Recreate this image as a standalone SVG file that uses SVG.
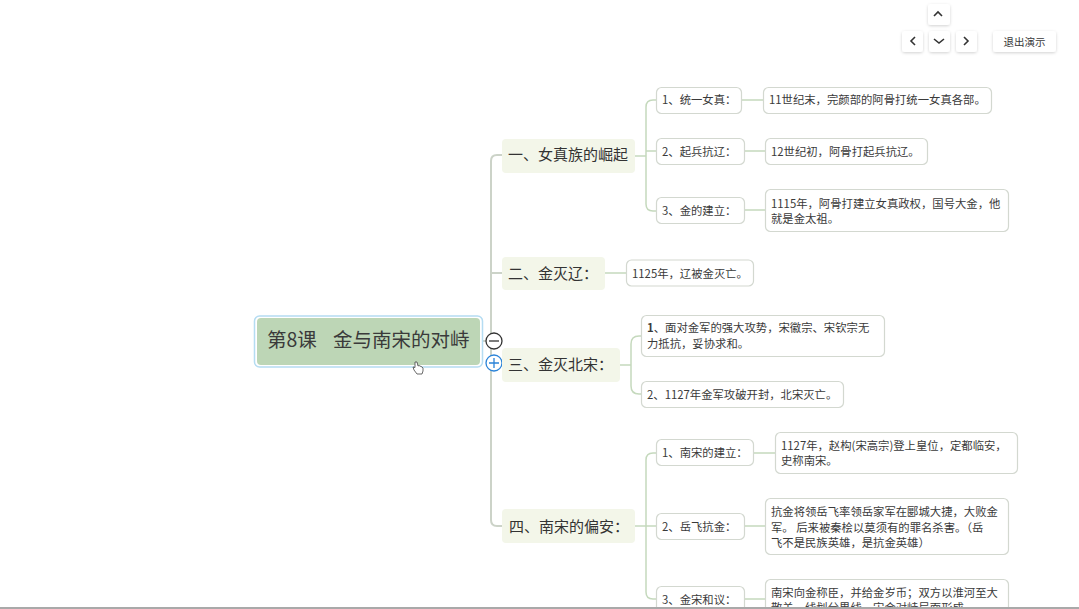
<svg xmlns="http://www.w3.org/2000/svg" width="1079" height="609" viewBox="0 0 1079 609">
<style>
text{font-family:"Noto Sans CJK SC","Noto Sans",sans-serif;fill:#3a3a3a}
.l1 rect{fill:#f3f6e9}
.l1 text{font-size:15px;fill:#333}
.box rect{fill:#fff;stroke:#d3d8d0;stroke-width:1.2}
.box text{font-size:11.350px}
.c path{fill:none;stroke:#c5d9bd;stroke-width:1.5}
.c path.t{stroke:#ccd3c8;stroke-width:2}
.btn rect{fill:#fff;filter:url(#s)}
.btn path{fill:none;stroke:#333;stroke-width:1.6}
</style>
<defs>
<filter id="s" x="-30%" y="-30%" width="160%" height="160%"><feDropShadow dx="0" dy="1" stdDeviation="1.5" flood-color="#000" flood-opacity=".18"/></filter>
<clipPath id="view"><rect width="1079" height="607"/></clipPath>
</defs>
<rect width="1079" height="609" fill="#fff"/>
<g class="c" id="connectors" clip-path="url(#view)">
<path class="t" d="M502 155H497Q491 155 491 161V520Q491 526 497 526H502"/>
<path class="t" d="M482 341H491M491 273H502M491 365H502"/>
<path d="M635 156H646M646 156V107Q646 100 653 100H656M646 156V204Q646 211 653 211H656M646 151H656"/>
<path d="M741 100H763M744 151H765M744 210H765"/>
<path d="M605 273H626"/>
<path d="M620 365H631M631 365V344Q631 336 639 336H641M631 365V386Q631 394 639 394H641"/>
<path d="M635 526H646M646 526V460Q646 453 653 453H656M646 526V592Q646 599 653 599H656M646 526H656"/>
<path d="M753 453H775M744 526H765M744 599H765"/>
</g>
<g id="root">
<rect x="254.500" y="316" width="228" height="51" rx="5" fill="#fff" stroke="#b5dcf2" stroke-width="1.500"/>
<rect x="257" y="318" width="223" height="47" rx="4" fill="#bdd6b6"/>
<text x="267" y="347" font-size="19.500" fill="#333">第8课<tspan x="333">金与南宋的对峙</tspan></text>
</g>
<g id="collapse">
<circle cx="494" cy="341" r="8" fill="#fff" stroke="#333" stroke-width="1.300"/>
<path d="M489 341H499" stroke="#333" stroke-width="1.300"/>
</g>
<g id="expand">
<circle cx="494" cy="363" r="8" fill="#fff" stroke="#2a83d8" stroke-width="1.300"/>
<path d="M489 363H499M494 358V368" stroke="#2a83d8" stroke-width="1.300"/>
</g>
<g id="n1" class="l1"><rect x="502" y="139" width="133" height="34" rx="4"/><text x="508" y="160">一、女真族的崛起</text></g>
<g id="n2" class="l1"><rect x="502" y="257" width="103" height="33" rx="4"/><text x="508" y="279">二、金灭辽：</text></g>
<g id="n3" class="l1"><rect x="502" y="348" width="118" height="34" rx="4"/><text x="508" y="370">三、金灭北宋：</text></g>
<g id="n4" class="l1"><rect x="502" y="509" width="133" height="34" rx="4"/><text x="509" y="532">四、南宋的偏安：</text></g>
<g id="n1a" class="box"><rect x="656.500" y="87.500" width="85" height="26" rx="5"/><text x="662" y="104">1、统一女真：</text></g>
<g id="n1b" class="box"><rect x="656.500" y="138.500" width="88" height="26" rx="5"/><text x="662" y="156">2、起兵抗辽：</text></g>
<g id="n1c" class="box"><rect x="656.500" y="197.500" width="88" height="26" rx="5"/><text x="662" y="215">3、金的建立：</text></g>
<g id="n1a1" class="box"><rect x="763.500" y="87.500" width="228" height="26" rx="5"/><text x="769" y="104">11世纪末，完颜部的阿骨打统一女真各部。</text></g>
<g id="n1b1" class="box"><rect x="765.500" y="138.500" width="162" height="26" rx="5"/><text x="771" y="156">12世纪初，阿骨打起兵抗辽。</text></g>
<g id="n1c1" class="box"><rect x="765.500" y="189.500" width="243" height="42" rx="5"/><text x="771" y="208">1115年，阿骨打建立女真政权，国号大金，他</text><text x="771" y="223">就是金太祖。</text></g>
<g id="n2a" class="box"><rect x="626.500" y="260" width="127" height="26" rx="5"/><text x="632" y="278">1125年，辽被金灭亡。</text></g>
<g id="n3a" class="box"><rect x="641.500" y="315.500" width="243" height="41" rx="5"/><text x="647" y="332"><tspan font-weight="700">1</tspan>、面对金军的强大攻势，宋徽宗、宋钦宗无</text><text x="647" y="348">力抵抗，妥协求和。</text></g>
<g id="n3b" class="box"><rect x="641.500" y="381.500" width="202" height="26" rx="5"/><text x="647" y="399">2、1127年金军攻破开封，北宋灭亡。</text></g>
<g id="n4a" class="box"><rect x="656.500" y="439.500" width="97" height="26" rx="5"/><text x="662" y="457">1、南宋的建立：</text></g>
<g id="n4b" class="box"><rect x="656.500" y="513.500" width="88" height="26" rx="5"/><text x="662" y="531">2、岳飞抗金：</text></g>
<g id="n4a1" class="box"><rect x="775.500" y="432.500" width="242" height="41" rx="5"/><text x="781" y="450">1127年，赵构(宋高宗)登上皇位，定都临安，</text><text x="781" y="465">史称南宋。</text></g>
<g id="n4b1" class="box"><rect x="765.500" y="498.500" width="243" height="56" rx="5"/><text x="771" y="516">抗金将领岳飞率领岳家军在郾城大捷，大败金</text><text x="771" y="532">军。 后来被秦桧以莫须有的罪名杀害。（岳</text><text x="771" y="547">飞不是民族英雄，是抗金英雄）</text></g>
<g id="n4c" class="box" clip-path="url(#view)"><rect x="656.500" y="586.500" width="88" height="30" rx="5"/><text x="662" y="604">3、金宋和议：</text></g>
<g id="n4c1" class="box" clip-path="url(#view)"><rect x="765.500" y="579.500" width="243" height="50" rx="5"/><text x="771" y="597">南宋向金称臣，并给金岁币；双方以淮河至大</text><text x="771" y="612">散关一线划分界线，宋金对峙局面形成。</text></g>
<rect x="0" y="607" width="1079" height="2" fill="#a9a9a9"/>
<g id="cursor"><path d="M415 362l2 0 1 4 1-.5 1 .5 1 .5 1 .5 1 1v3l-1 3h-5l-3-4-1-3 2 .5z" fill="#fff" stroke="#444" stroke-width=".8"/></g>
<g id="btn-up" class="btn"><rect x="928" y="4" width="22" height="21" rx="3"/><path d="M934 16l4-4 4 4"/></g>
<g id="btn-left" class="btn"><rect x="902" y="31" width="21" height="21" rx="3"/><path d="M915 37l-4 4 4 4"/></g>
<g id="btn-down" class="btn"><rect x="929" y="31" width="21" height="21" rx="3"/><path d="M934 39l5 4 5-4"/></g>
<g id="btn-right" class="btn"><rect x="956" y="31" width="21" height="21" rx="3"/><path d="M964 37l4 4-4 4"/></g>
<g id="btn-exit" class="btn"><rect x="993" y="31" width="63" height="21" rx="3"/><text x="1024.500" y="45.500" font-size="10.500" text-anchor="middle" fill="#333">退出演示</text></g>
</svg>
